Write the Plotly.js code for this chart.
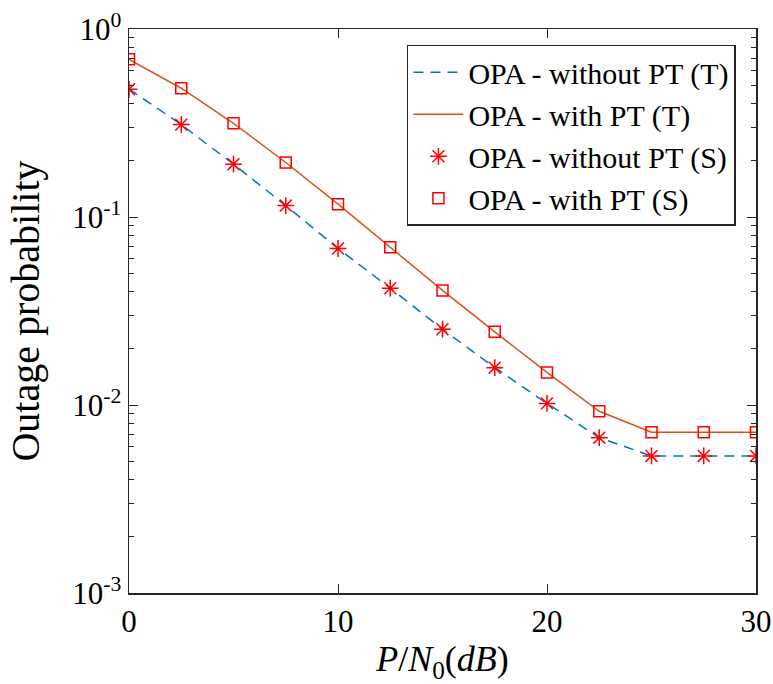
<!DOCTYPE html>
<html>
<head>
<meta charset="utf-8">
<script src="https://cdn.plot.ly/plotly-3.0.1.min.js"></script>
</head>
<body style="margin:0">
<div id="chart" style="width:773px;height:684px"></div>
<script>
// SNR in dB
const snr = [0, 2.5, 5, 7.5, 10, 12.5, 15, 17.5, 20, 22.5, 25, 27.5, 30];
// Theory curves
const withoutPT_T = [0.48, 0.31, 0.191, 0.115, 0.068, 0.0418, 0.0253, 0.0158, 0.0102, 0.0067, 0.00536, 0.00536, 0.00536];
const withPT_T = [0.69, 0.484, 0.315, 0.195, 0.117, 0.069, 0.0407, 0.0245, 0.0149, 0.00926, 0.00716, 0.00716, 0.00716];
// Simulation points
const withoutPT_S = [0.478, 0.31, 0.191, 0.115, 0.068, 0.0418, 0.0253, 0.0158, 0.0102, 0.0067, 0.00536, 0.00536, 0.00536];
const withPT_S = [0.69, 0.484, 0.315, 0.195, 0.117, 0.069, 0.0407, 0.0245, 0.0149, 0.00926, 0.00716, 0.00716, 0.00716];

const seriesNames = ['OPA - without PT (T)', 'OPA - with PT (T)', 'OPA - without PT (S)', 'OPA - with PT (S)'];
const xTicks = [0, 10, 20, 30];
const yTicks = [1, 0.1, 0.01, 0.001];
const yTickText = ['10<sup>0</sup>', '10<sup>-1</sup>', '10<sup>-2</sup>', '10<sup>-3</sup>'];

const minorY = [];
[0.001, 0.01, 0.1].forEach(function (d) { for (let k = 2; k <= 9; k++) minorY.push(d * k); });

const fam = 'serif';
const axisColor = '#262626';

const traces = [
  {x: snr, y: withoutPT_T, name: seriesNames[0], mode: 'lines',
   line: {color: '#0072BD', width: 1.5, dash: '10px,7px'}},
  {x: snr, y: withPT_T, name: seriesNames[1], mode: 'lines',
   line: {color: '#D95319', width: 1.5}},
  {x: snr, y: withoutPT_S, name: seriesNames[2], mode: 'markers',
   marker: {symbol: 'asterisk-open', size: 14, color: '#FF0000', line: {color: '#FF0000', width: 1.5}}},
  {x: snr, y: withPT_S, name: seriesNames[3], mode: 'markers',
   marker: {symbol: 'square-open', size: 11, color: '#FF0000', line: {color: '#FF0000', width: 1.5}}}
];

const layout = {
  width: 773, height: 684,
  margin: {l: 129, r: 17, t: 29, b: 91},
  font: {family: fam, size: 30, color: '#000'},
  showlegend: true,
  legend: {
    x: 0.968, xanchor: 'right', y: 0.972, yanchor: 'top',
    bgcolor: '#fff', bordercolor: axisColor, borderwidth: 1.5,
    font: {family: fam, size: 30, color: '#000'},
    itemwidth: 50
  },
  xaxis: {
    range: [0, 30], tickvals: xTicks,
    ticks: 'inside', ticklen: 9, tickcolor: axisColor,
    showline: true, linecolor: axisColor, linewidth: 1.5, mirror: 'allticks',
    showgrid: false, zeroline: false,
    tickfont: {family: fam, size: 31, color: '#000'},
    title: {text: '<i>P</i>/<i>N</i><sub>0</sub>(<i>dB</i>)', font: {family: fam, size: 36, color: '#000'}}
  },
  yaxis: {
    type: 'log', range: [-3, 0], tickvals: yTicks, ticktext: yTickText,
    ticks: 'inside', ticklen: 9, tickcolor: axisColor,
    showline: true, linecolor: axisColor, linewidth: 1.5, mirror: 'allticks',
    showgrid: false, zeroline: false,
    tickfont: {family: fam, size: 31, color: '#000'},
    minor: {tickvals: minorY, ticks: 'inside', ticklen: 5, tickcolor: axisColor, showgrid: false},
    title: {text: 'Outage probability', font: {family: fam, size: 40, color: '#000'}}
  }
};

Plotly.newPlot('chart', traces, layout, {displayModeBar: false, staticPlot: true});
</script>
</body>
</html>
